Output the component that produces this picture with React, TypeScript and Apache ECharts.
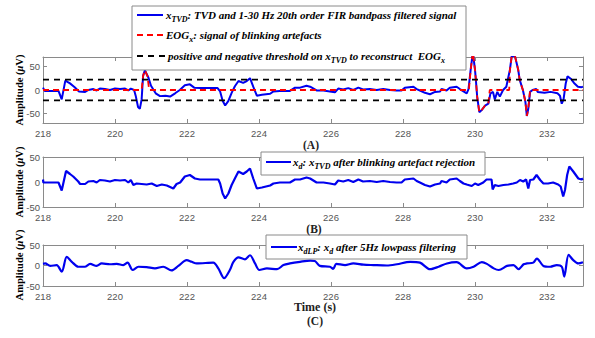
import React, { useEffect, useRef } from "react";
import * as echarts from "echarts";

// ---------- data (time in s, amplitude in µV) ----------
const xTicks = [218, 220, 222, 224, 226, 228, 230, 232];
const yTicks = [-50, 0, 50];
const threshold = 22;

const xTVD: number[][] = [
  [218.0, 5], [218.05, -2], [218.43, -2], [218.52, -20], [218.62, 20], [218.75, 14], [218.88, 6],
  [219.0, -3], [219.17, -4], [219.26, 0], [219.4, 2], [219.49, -1], [219.58, 3], [219.72, 2],
  [219.86, 0], [220.0, 3], [220.14, 2], [220.28, 3], [220.37, -1], [220.44, 3], [220.53, 0],
  [220.58, -14], [220.64, -36], [220.69, -40], [220.74, -20], [220.78, 30], [220.83, 42],
  [220.93, 26], [221.0, 9], [221.13, -7], [221.25, -13], [221.4, -12], [221.53, -14],
  [221.67, -7], [221.8, 0], [221.94, 10], [222.08, 12], [222.2, 5], [222.36, 4], [222.85, 4],
  [222.92, -3], [222.99, -23], [223.06, -33], [223.15, -23], [223.24, -6], [223.33, 8],
  [223.43, 19], [223.56, 15], [223.66, 19], [223.75, 25], [223.84, 7], [223.94, -12],
  [224.08, -10], [224.31, -8], [224.4, -3], [224.58, -2], [224.86, -2], [225.0, 5],
  [225.14, 5], [225.32, 9], [225.42, 7], [225.6, -1], [225.79, -1], [225.97, -3],
  [226.11, -5], [226.2, 3], [226.34, 1], [226.48, 4], [226.62, 0], [226.76, 5], [226.89, 1],
  [227.08, 2], [227.27, 0], [227.45, 2], [227.64, 0], [227.82, -1], [227.96, -1],
  [228.05, 5], [228.29, 7], [228.38, 2], [228.47, -1], [228.61, -6], [228.75, -9],
  [228.89, -4], [229.03, -3], [229.07, 2], [229.21, -1], [229.3, 5], [229.49, 7],
  [229.58, 2], [229.68, -3], [229.77, -7], [229.82, 2], [229.88, 43], [229.94, 80],
  [230.0, 43], [230.03, 16], [230.06, -14], [230.12, -47], [230.18, -43], [230.28, -33],
  [230.37, -29], [230.43, -7], [230.5, -4], [230.55, -20], [230.62, -4], [230.69, -14],
  [230.78, 0], [230.87, 7], [230.97, 43], [231.02, 72], [231.11, 72], [231.2, 43],
  [231.24, 22], [231.33, 0], [231.4, -25], [231.44, -55], [231.48, -40], [231.53, -4],
  [231.6, 0], [231.7, 2], [231.74, -4], [231.93, -6], [232.1, -4], [232.29, -7],
  [232.36, -12], [232.41, -29], [232.46, -20], [232.52, 14], [232.57, 29], [232.66, 24],
  [232.75, 15], [232.86, 7], [232.96, 6], [233.0, 7],
];

const eogX: number[][] = [
  [218, 0], [220.74, 0], [220.78, 30], [220.83, 42], [220.9, 30], [220.95, 0],
  [229.83, 0], [229.88, 43], [229.94, 80], [230.0, 43], [230.03, 16], [230.06, -14],
  [230.12, -47], [230.18, -43], [230.28, -33], [230.37, -29], [230.41, 0], [230.95, 0],
  [230.97, 43], [231.02, 72], [231.11, 72], [231.2, 43], [231.24, 22], [231.33, 0],
  [231.4, -25], [231.44, -55], [231.48, -40], [231.53, 0], [233, 0],
];

const xd: number[][] = [
  [218.0, 5], [218.01, -1], [218.43, -1], [218.52, -17], [218.64, 22], [218.75, 16],
  [218.84, 11], [218.98, 1], [219.03, -4], [219.17, -4], [219.26, 1], [219.4, 2],
  [219.49, -1], [219.58, 4], [219.72, 3], [219.86, 1], [220.0, 4], [220.14, 3],
  [220.28, 4], [220.37, -1], [220.44, 4], [220.51, -6], [220.6, -3], [220.74, -4],
  [220.88, -5], [221.02, -3], [221.16, -8], [221.3, -5], [221.44, -7], [221.62, -13],
  [221.71, -4], [221.81, -1], [221.94, 11], [222.08, 14], [222.22, 7], [222.36, 5],
  [222.87, 5], [222.92, -3], [222.99, -23], [223.06, -33], [223.15, -23], [223.24, -6],
  [223.33, 7], [223.43, 21], [223.56, 16], [223.66, 21], [223.75, 27], [223.84, 7],
  [223.94, -13], [224.08, -11], [224.31, -7], [224.4, -3], [224.58, -1], [224.86, -1],
  [225.0, 5], [225.14, 5], [225.32, 9], [225.42, 7], [225.6, -1], [225.79, -1],
  [225.97, -3], [226.11, -5], [226.2, 3], [226.34, 1], [226.48, 4], [226.62, 0],
  [226.76, 5], [226.89, 1], [227.08, 2], [227.27, 0], [227.45, 2], [227.64, 0],
  [227.82, -1], [227.96, -1], [228.05, 5], [228.29, 7], [228.38, 2], [228.47, -1],
  [228.61, -6], [228.75, -9], [228.89, -5], [229.03, -3], [229.07, 2], [229.21, -1],
  [229.3, 5], [229.49, 7], [229.58, 2], [229.68, -3], [229.77, -5], [229.91, -8],
  [230.0, -3], [230.09, -6], [230.23, -1], [230.32, 5], [230.46, 5], [230.49, -15],
  [230.55, -6], [230.65, -8], [230.79, -6], [230.93, -5], [231.06, -3], [231.16, -1],
  [231.25, 4], [231.34, 1], [231.42, 5], [231.48, -13], [231.53, 4], [231.62, 5],
  [231.71, 14], [231.81, 4], [231.9, -3], [232.03, -3], [232.17, -1], [232.31, -5],
  [232.38, -9], [232.45, -29], [232.5, -16], [232.56, 14], [232.62, 31], [232.73, 21],
  [232.87, 7], [232.96, 5], [233.0, 7],
];

const xdLP: number[][] = [
  [218.0, 4], [218.06, 5], [218.2, -1], [218.38, 1], [218.52, -15], [218.66, 21],
  [218.8, 9], [218.98, -3], [219.16, -3], [219.31, 4], [219.49, -1], [219.63, 5],
  [219.86, 3], [220.05, 4], [220.23, 1], [220.35, 7], [220.49, -11], [220.65, -3],
  [220.88, -4], [221.11, -7], [221.34, -3], [221.57, -12], [221.76, -1], [221.99, 13],
  [222.13, 9], [222.27, 5], [222.73, 7], [222.87, -7], [223.03, -31], [223.19, -11],
  [223.29, 9], [223.43, 20], [223.61, 15], [223.75, 25], [223.89, 5], [224.01, -11],
  [224.22, -7], [224.5, -9], [224.68, 1], [224.86, 5], [225.14, 9], [225.42, 12],
  [225.55, 11], [225.69, -1], [225.97, -3], [226.06, -8], [226.15, 4], [226.39, 1],
  [226.62, 5], [226.9, 2], [227.18, 1], [227.55, 0], [227.83, 3], [228.2, 9],
  [228.47, 7], [228.75, -9], [228.99, -3], [229.22, 5], [229.49, 8], [229.77, -7],
  [229.96, -3], [230.19, 8], [230.33, 4], [230.52, -7], [230.66, -11], [230.89, -1],
  [231.07, 1], [231.21, -9], [231.35, 3], [231.44, 5], [231.62, 7], [231.72, 17],
  [231.9, -1], [232.09, -3], [232.27, 1], [232.41, -3], [232.48, -27], [232.6, 26],
  [232.73, 13], [232.87, 5], [233.0, 8],
];

// ---------- styling ----------
const AXIS = "#8a8a8a";
const LABEL = "#555";
const BLUE = "#0000ee";
const SERIF = "'Liberation Serif', 'Times New Roman', serif";
const SANS = "'Liberation Sans', Arial, sans-serif";

const xAxisFor = (gridIndex: number, position: "top" | "bottom") => ({
  type: "value",
  gridIndex,
  position,
  min: 218,
  max: 233,
  axisLine: { show: true, onZero: false, lineStyle: { color: AXIS, width: 1 } },
  axisTick: { show: true, inside: true, length: 4, customValues: xTicks, lineStyle: { color: AXIS } },
  axisLabel: {
    show: position === "bottom",
    customValues: xTicks,
    fontSize: 9.5,
    fontFamily: SANS,
    color: LABEL,
    margin: 5,
  },
  splitLine: { show: false },
});

const yAxisFor = (gridIndex: number, position: "left" | "right", lim: number) => ({
  type: "value",
  gridIndex,
  position,
  min: -lim,
  max: lim,
  axisLine: { show: true, onZero: false, lineStyle: { color: AXIS, width: 1 } },
  axisTick: { show: true, inside: true, length: 4, customValues: yTicks, lineStyle: { color: AXIS } },
  axisLabel: {
    show: position === "left",
    customValues: yTicks,
    fontSize: 9.5,
    fontFamily: SANS,
    color: LABEL,
    margin: 3,
  },
  splitLine: { show: false },
});

const legendRich = {
  i: { fontFamily: SERIF, fontStyle: "italic", fontWeight: "bold", fontSize: 11, lineHeight: 13, color: "#111" },
  s: {
    fontFamily: SERIF,
    fontStyle: "italic",
    fontWeight: "bold",
    fontSize: 8,
    lineHeight: 10,
    padding: [8, 0, 0, 0],
    color: "#111",
  },
};

const titleRich = {
  b: { fontFamily: SERIF, fontWeight: "bold", fontSize: 10.5, color: "#222" },
  m: { fontFamily: SERIF, fontStyle: "italic", fontWeight: "bold", fontSize: 10.5, color: "#222" },
};

const ampTitle = (y: number) => ({
  type: "text",
  x: 19,
  y,
  rotation: Math.PI / 2,
  z: 100,
  style: {
    text: "{b|Amplitude (}{m|μ}{b|V)}",
    rich: titleRich,
    align: "center",
    verticalAlign: "middle",
  },
});

const legText = (x: number, y: number, text: string) => ({
  type: "text",
  x,
  y,
  z: 101,
  style: { text, rich: legendRich, align: "left", verticalAlign: "middle" },
});

const legLine = (x1: number, x2: number, y: number, color: string, dash?: number[]) => ({
  type: "line",
  z: 101,
  shape: { x1, y1: y, x2, y2: y },
  style: { stroke: color, lineWidth: 2, lineDash: dash },
});

const legBox = (x: number, y: number, w: number, h: number) => ({
  type: "rect",
  z: 100,
  shape: { x, y, width: w, height: h },
  style: { fill: "#fff", stroke: "#8a8a8a", lineWidth: 1 },
});

const plainLabel = (x: number, y: number, text: string, size: number) => ({
  type: "text",
  x,
  y,
  z: 100,
  style: {
    text,
    fontFamily: SERIF,
    fontWeight: "bold",
    fontSize: size,
    fill: "#222",
    align: "center",
    verticalAlign: "middle",
  },
});

export default function App() {
  const ref = useRef<HTMLDivElement>(null);

  useEffect(() => {
    if (!ref.current) return;
    const chart = echarts.init(ref.current, undefined, { renderer: "svg" });

    const option = {
      animation: false,
      backgroundColor: "#fff",
      grid: [
        { left: 43, top: 57, width: 540, height: 66 },
        { left: 43, top: 157, width: 540, height: 50 },
        { left: 43, top: 245, width: 540, height: 41 },
      ],
      xAxis: [
        xAxisFor(0, "bottom"),
        xAxisFor(0, "top"),
        xAxisFor(1, "bottom"),
        xAxisFor(1, "top"),
        xAxisFor(2, "bottom"),
        xAxisFor(2, "top"),
      ],
      yAxis: [
        yAxisFor(0, "left", 70),
        yAxisFor(0, "right", 70),
        yAxisFor(1, "left", 50),
        yAxisFor(1, "right", 50),
        yAxisFor(2, "left", 50),
        yAxisFor(2, "right", 50),
      ],
      series: [
        {
          type: "line",
          xAxisIndex: 0,
          yAxisIndex: 0,
          data: xTVD,
          showSymbol: false,
          clip: true,
          lineStyle: { color: BLUE, width: 2 },
          z: 2,
        },
        {
          type: "line",
          xAxisIndex: 0,
          yAxisIndex: 0,
          data: eogX,
          showSymbol: false,
          clip: true,
          lineStyle: { color: "#ff0000", width: 1.8, type: [6, 4] },
          z: 3,
        },
        {
          type: "line",
          xAxisIndex: 0,
          yAxisIndex: 0,
          data: [[218, threshold], [233, threshold]],
          showSymbol: false,
          lineStyle: { color: "#000", width: 1.8, type: [6, 5] },
          z: 4,
        },
        {
          type: "line",
          xAxisIndex: 0,
          yAxisIndex: 0,
          data: [[218, -threshold], [233, -threshold]],
          showSymbol: false,
          lineStyle: { color: "#000", width: 1.8, type: [6, 5] },
          z: 4,
        },
        {
          type: "line",
          xAxisIndex: 2,
          yAxisIndex: 2,
          data: xd,
          showSymbol: false,
          clip: true,
          lineStyle: { color: BLUE, width: 2.2 },
        },
        {
          type: "line",
          xAxisIndex: 4,
          yAxisIndex: 4,
          data: xdLP,
          showSymbol: false,
          smooth: 0.3,
          clip: true,
          lineStyle: { color: BLUE, width: 2.2 },
        },
      ],
      graphic: [
        ampTitle(90),
        ampTitle(182),
        ampTitle(265),
        // legend A
        legBox(132, 6, 334, 64),
        legLine(137, 163, 15, BLUE),
        legText(166, 15, "{i|x}{s|TVD}{i|: TVD and 1-30 Hz 20th order FIR bandpass filtered signal}"),
        legLine(137, 163, 35, "#ff0000", [6, 4]),
        legText(166, 35, "{i|EOG}{s|x}{i|: signal of blinking artefacts}"),
        legLine(137, 166, 56, "#000", [6, 5]),
        legText(168, 56, "{i|positive and negative threshold on }{i|x}{s|TVD}{i| to reconstruct  EOG}{s|x}"),
        // legend B
        legBox(261, 152, 224, 23),
        legLine(266, 291, 162, BLUE),
        legText(293, 162, "{i|x}{s|d}{i|: x}{s|TVD}{i| after blinking artefact rejection}"),
        // legend C
        legBox(266, 235, 201, 24),
        legLine(271, 297, 247, BLUE),
        legText(298, 247, "{i|x}{s|dLP}{i|: x}{s|d}{i| after 5Hz lowpass filtering}"),
        // panel labels
        plainLabel(311, 145, "(A)", 11.5),
        plainLabel(314, 229, "(B)", 11.5),
        plainLabel(315, 307, "Time (s)", 12),
        plainLabel(315, 321, "(C)", 11.5),
      ],
    };

    chart.setOption(option as any);
    return () => chart.dispose();
  }, []);

  return (
    <div
      ref={ref}
      style={{ position: "fixed", left: 0, top: 0, width: 595, height: 338, background: "#fff" }}
    />
  );
}
